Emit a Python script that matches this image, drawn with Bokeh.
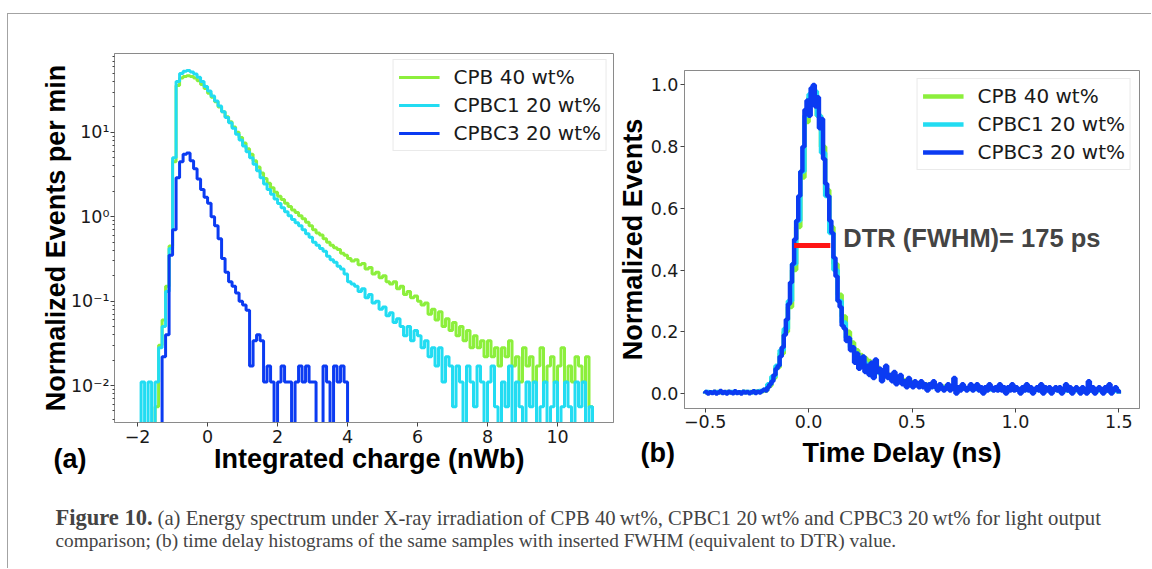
import numpy as np
from bokeh.plotting import figure
from bokeh.models import (Range1d, FixedTicker, Legend, LegendItem, Label, Title,
                          NumeralTickFormatter, Spacer)
from bokeh.layouts import row, column
from bokeh.embed import file_html
from bokeh.resources import INLINE

# ---------------- data ----------------
series_names = ["CPB 40 wt%", "CPBC1 20 wt%", "CPBC3 20 wt%"]
series_colors = ["#8CEF3C", "#22DCF2", "#0B3BF2"]

# (a) integrated charge histograms, bins of 0.1 nWb starting at -2.0
charge_start = -2.0
charge_bin = 0.1
cpb40_charge = [
    0, 0, 0, 0, 0, 0.0056, 0.03, 0.06, 0.15, 0.45,
    4.5, 36, 44, 46, 47, 46, 44, 41, 37, 33,
    29, 26, 23, 20, 17.5, 15.3, 13.4, 11.6, 10.0, 8.7,
    7.5, 6.4, 5.5, 4.6, 3.9, 3.3, 2.85, 2.5, 2.2, 1.95,
    1.75, 1.6, 1.45, 1.32, 1.2, 1.12, 1.03, 0.95, 0.86, 0.78,
    0.70, 0.64, 0.61, 0.55, 0.50, 0.46, 0.43, 0.41, 0.37, 0.35,
    0.32, 0.30, 0.31, 0.27, 0.28, 0.24, 0.25, 0.21, 0.22, 0.19,
    0.20, 0.17, 0.16, 0.17, 0.14, 0.15, 0.12, 0.13, 0.11, 0.115,
    0.10, 0.09, 0.095, 0.07, 0.08, 0.06, 0.075, 0.05, 0.062, 0.045,
    0.056, 0.039, 0.05, 0.034, 0.045, 0.028, 0.039, 0.028, 0.034, 0.022,
    0.034, 0.022, 0.028, 0.017, 0.028, 0.022, 0.034, 0.017, 0.022, 0.011,
    0.028, 0.017, 0.022, 0.011, 0.017, 0.028, 0.011, 0.017, 0.022, 0.011,
    0.017, 0.028, 0.011, 0.017, 0.011, 0.022, 0.017, 0.011, 0.022, 0.0056,
]
cpbc1_charge = [
    0, 0.011, 0, 0.011, 0, 0.011, 0.028, 0.05, 0.13, 0.42,
    5.0, 40, 50, 53, 54, 52, 49, 45, 40, 35,
    31, 27, 23.5, 20.5, 17.5, 15, 13, 11.2, 9.5, 8.1,
    6.9, 5.9, 5.0, 4.2, 3.5, 2.9, 2.45, 2.1, 1.85, 1.62,
    1.44, 1.28, 1.15, 1.03, 0.93, 0.85, 0.78, 0.70, 0.63, 0.57,
    0.50, 0.46, 0.42, 0.39, 0.34, 0.31, 0.29, 0.26, 0.24, 0.21,
    0.17, 0.16, 0.15, 0.13, 0.14, 0.11, 0.12, 0.095, 0.10, 0.08,
    0.085, 0.067, 0.073, 0.056, 0.062, 0.05, 0.039, 0.05, 0.034, 0.045,
    0.039, 0.028, 0.034, 0.022, 0.028, 0.017, 0.028, 0.011, 0.022, 0.017,
    0.0056, 0.017, 0.011, 0, 0.017, 0.011, 0.0056, 0.017, 0.011, 0,
    0.011, 0.017, 0.0056, 0, 0.011, 0.0056, 0.017, 0, 0.011, 0.0056,
    0, 0.011, 0.0056, 0.011, 0, 0.0056, 0.011, 0, 0.0056, 0.011,
    0, 0.0056, 0.011, 0.0056, 0, 0.011, 0.0056, 0.011, 0, 0.0056,
]
cpbc3_charge = [
    0, 0, 0, 0, 0, 0, 0, 0.022, 0.04, 0.35,
    0.7, 2.9, 4.5, 5.5, 5.7, 4.6, 3.7, 2.8, 2.1, 1.7,
    1.45, 1.0, 0.78, 0.55, 0.32, 0.22, 0.17, 0.15, 0.125, 0.10,
    0.09, 0.078, 0.017, 0.034, 0.04, 0.034, 0.011, 0.017, 0.011, 0,
    0.011, 0.017, 0.011, 0.011, 0, 0.011, 0.017, 0.011, 0.017, 0.011,
    0.011, 0, 0, 0.017, 0.011, 0, 0.017, 0.011, 0.017, 0.011,
]

# (b) time delay histograms (ns)
delay_start = -0.5
cpbc3_bin = 0.01
cpbc3_delay = [
    0.005, 0.0, 0.004, 0.002, 0.006, 0.0, 0.003, 0.008, 0.002, 0.005,
    0.0, 0.006, 0.003, 0.001, 0.007, 0.002, 0.004, 0.0, 0.006, 0.003,
    0.005, 0.001, 0.004, 0.007, 0.002, 0.006, 0.003, 0.008, 0.012, 0.01,
    0.02, 0.03, 0.04, 0.06, 0.08, 0.09, 0.12, 0.15, 0.19, 0.24,
    0.29, 0.36, 0.42, 0.50, 0.56, 0.64, 0.72, 0.80, 0.92, 0.95,
    0.90, 0.99, 1.00, 0.93, 0.96, 0.86, 0.89, 0.76, 0.68, 0.64,
    0.56, 0.52, 0.44, 0.38, 0.30, 0.28, 0.22, 0.21, 0.17, 0.18,
    0.14, 0.15, 0.10, 0.13, 0.08, 0.11, 0.12, 0.07, 0.09, 0.06,
    0.10, 0.05, 0.11, 0.07, 0.08, 0.04, 0.07, 0.09, 0.05, 0.06,
    0.04, 0.07, 0.03, 0.05, 0.06, 0.03, 0.04, 0.02, 0.05, 0.03,
    0.02, 0.04, 0.03, 0.02, 0.04, 0.02, 0.03, 0.01, 0.03, 0.02,
    0.04, 0.02, 0.01, 0.03, 0.02, 0.01, 0.02, 0.03, 0.01, 0.02,
    0.05, 0.00, 0.02, 0.01, 0.03, 0.02, 0.01, 0.02, 0.03, 0.01,
    0.02, 0.03, 0.01, 0.02, 0.00, 0.02, 0.01, 0.03, 0.02, 0.01,
    0.02, 0.01, 0.03, 0.01, 0.02, 0.00, 0.02, 0.01, 0.03, 0.01,
    0.02, 0.01, 0.00, 0.02, 0.01, 0.03, 0.01, 0.02, 0.00, 0.01,
    0.02, 0.01, 0.03, 0.00, 0.02, 0.01, 0.02, 0.00, 0.01, 0.02,
    0.01, 0.02, 0.00, 0.01, 0.03, 0.01, 0.02, 0.00, 0.01, 0.02,
    0.01, 0.00, 0.02, 0.01, 0.00, 0.04, 0.01, 0.02, 0.00, 0.01,
    0.02, 0.01, 0.00, 0.02, 0.01, 0.03, 0.00, 0.01, 0.02, 0.01,
]
wide_bin = 0.02
cpb40_delay = [
    0.004, 0.003, 0.005, 0.004, 0.003, 0.005, 0.004, 0.004, 0.003, 0.005,
    0.004, 0.005, 0.006, 0.007, 0.01,
    0.025, 0.05, 0.085, 0.13, 0.2, 0.28, 0.40, 0.54, 0.70, 0.88,
    0.96, 0.97, 0.90, 0.80, 0.66, 0.54, 0.42, 0.32, 0.25, 0.20,
    0.165, 0.14, 0.125, 0.115, 0.105, 0.095, 0.085, 0.075, 0.068, 0.06,
    0.055, 0.05, 0.045, 0.042, 0.038, 0.035, 0.032, 0.03, 0.028, 0.026,
    0.025, 0.024, 0.022, 0.021, 0.02,
    0.019, 0.018, 0.018, 0.017, 0.017, 0.016, 0.016, 0.016, 0.015, 0.015,
    0.015, 0.014, 0.015, 0.014, 0.014, 0.013, 0.014, 0.013, 0.013, 0.013,
    0.012, 0.013, 0.012, 0.012, 0.012, 0.011, 0.012, 0.011, 0.011, 0.012,
    0.011, 0.011, 0.010, 0.011, 0.010, 0.011, 0.010, 0.010, 0.011, 0.010,
]
cpbc1_delay = [
    0.005, 0.004, 0.004, 0.005, 0.003, 0.004, 0.005, 0.004, 0.004, 0.005,
    0.005, 0.004, 0.006, 0.008, 0.012,
    0.03, 0.055, 0.09, 0.14, 0.21, 0.30, 0.42, 0.56, 0.72, 0.90,
    0.97, 0.98, 0.90, 0.78, 0.64, 0.52, 0.40, 0.30, 0.23, 0.18,
    0.15, 0.13, 0.115, 0.10, 0.09, 0.08, 0.072, 0.065, 0.058, 0.052,
    0.047, 0.043, 0.039, 0.036, 0.033, 0.03, 0.028, 0.026, 0.024, 0.022,
    0.021, 0.02, 0.019, 0.018, 0.017,
    0.017, 0.016, 0.016, 0.015, 0.015, 0.015, 0.014, 0.014, 0.014, 0.013,
    0.013, 0.013, 0.012, 0.013, 0.012, 0.012, 0.012, 0.011, 0.012, 0.011,
    0.011, 0.011, 0.011, 0.010, 0.011, 0.010, 0.010, 0.010, 0.011, 0.010,
    0.010, 0.009, 0.010, 0.010, 0.009, 0.010, 0.009, 0.009, 0.010, 0.009,
]
fwhm_left = -0.07
fwhm_right = 0.105
fwhm_level = 0.48
dtr_text = "DTR (FWHM)= 175 ps"
dtr_x = 0.168
dtr_y = 0.503

panel_a = "(a)"
panel_b = "(b)"
xlabel_a = "Integrated charge (nWb)"
xlabel_b = "Time Delay (ns)"
ylabel_a = "Normalized Events per min"
ylabel_b = "Normalized Events"

caption_bold = "Figure 10."
caption_line1 = ("(a) Energy spectrum under X-ray irradiation of CPB 40\u2009wt%, "
                 "CPBC1 20\u2009wt% and CPBC3 20\u2009wt% for light output")
caption_line2 = ("comparison; (b) time delay histograms of the same samples with "
                 "inserted FWHM (equivalent to DTR) value.")

# ---------------- helpers ----------------
SPINE = "#8a8a8a"
TICK_FONT = "DejaVu Sans"
LABEL_FONT = "Liberation Sans"
NB = "\u00a0"


def step_xy(start, width, vals, floor):
    v = np.asarray(vals, dtype=float)
    v = np.where(v > 0, v, floor)
    edges = start + width * np.arange(len(v) + 1)
    xs = np.repeat(edges, 2)
    ys = np.concatenate([[floor], np.repeat(v, 2), [floor]])
    return xs, ys


def style_axis(ax):
    ax.axis_line_color = SPINE
    ax.axis_line_width = 1
    ax.major_tick_line_color = "#444444"
    ax.major_tick_out = 4
    ax.major_tick_in = 0
    ax.minor_tick_line_color = "#444444"
    ax.minor_tick_out = 2
    ax.minor_tick_in = 0
    ax.major_label_text_font = TICK_FONT
    ax.major_label_text_font_size = "17.5px"
    ax.major_label_text_color = "#1a1a1a"
    ax.major_label_standoff = 3
    ax.axis_label_text_font = LABEL_FONT
    ax.axis_label_text_font_style = "bold"
    ax.axis_label_text_font_size = "27px"
    ax.axis_label_text_color = "#000000"
    ax.axis_label_standoff = 0


def style_legend(lg, margin):
    lg.location = "top_right"
    lg.margin = margin
    lg.padding = 5
    lg.spacing = 4
    lg.glyph_width = 41
    lg.glyph_height = 20
    lg.label_standoff = 14
    lg.label_text_font = TICK_FONT
    lg.label_text_font_size = "20px"
    lg.label_text_color = "#1a1a1a"
    lg.border_line_color = "#d6d6d6"
    lg.border_line_width = 1
    lg.background_fill_color = "white"
    lg.background_fill_alpha = 0.85


def bottom_title(text, offset, standoff):
    return Title(text=text, align="left", offset=offset, standoff=standoff,
                 vertical_align="middle", text_font=LABEL_FONT, text_font_size="27px",
                 text_font_style="bold", text_color="#000000")


# ---------------- panel (a) ----------------
p1 = figure(title=None, frame_width=499, frame_height=369, y_axis_type="log",
            x_range=Range1d(-2.66, 11.6), y_range=Range1d(0.00365, 86),
            output_backend="svg", toolbar_location=None,
            min_border_left=106, min_border_right=1,
            min_border_top=39, min_border_bottom=78)
p1.grid.visible = False
p1.outline_line_color = SPINE
p1.background_fill_color = "white"
p1.border_fill_color = "white"

rends1 = []
for vals, col in zip([cpb40_charge, cpbc1_charge, cpbc3_charge], series_colors):
    xs, ys = step_xy(charge_start, charge_bin, vals, 1e-5)
    rends1.append(p1.line(xs, ys, line_color=col, line_width=3))

p1.xaxis.ticker = FixedTicker(ticks=[-2, 0, 2, 4, 6, 8, 10])
p1.xaxis.major_label_overrides = {-2: "\u22122"}
minor_log = [k * 10.0 ** e for e in range(-3, 2) for k in range(2, 10)]
p1.yaxis.ticker = FixedTicker(ticks=[0.01, 0.1, 1, 10], minor_ticks=minor_log)
p1.yaxis.major_label_overrides = {0.01: "10\u207b\u00b2", 0.1: "10\u207b\u00b9",
                                  1: "10\u2070", 10: "10\u00b9"}
p1.yaxis.axis_label = ylabel_a
for ax in (p1.xaxis[0], p1.yaxis[0]):
    style_axis(ax)
p1.xaxis.minor_tick_out = 0
p1.xaxis.major_label_standoff = 3
p1.yaxis.major_label_standoff = 1
p1.yaxis.axis_label_standoff = -3
# panel letter and x label share one line under the axis
p1.add_layout(bottom_title(panel_a + NB * 17 + xlabel_a, -61, -6), "below")

lg1 = Legend(items=[LegendItem(label=n, renderers=[r]) for n, r in zip(series_names, rends1)])
style_legend(lg1, 6)
p1.add_layout(lg1)

# ---------------- panel (b) ----------------
p2 = figure(title=None, frame_width=455, frame_height=338,
            x_range=Range1d(-0.6, 1.6), y_range=Range1d(-0.0486, 1.047),
            output_backend="svg", toolbar_location=None,
            min_border_left=65, min_border_right=6,
            min_border_top=39, min_border_bottom=92)
p2.grid.visible = False
p2.outline_line_color = SPINE
p2.background_fill_color = "white"
p2.border_fill_color = "white"

rends2 = []
for vals, width, col in zip([cpb40_delay, cpbc1_delay, cpbc3_delay],
                            [wide_bin, wide_bin, cpbc3_bin], series_colors):
    xs, ys = step_xy(delay_start, width, vals, 0.0)
    rends2.append(p2.line(xs, ys, line_color=col, line_width=4.5))

p2.line([fwhm_left, fwhm_right], [fwhm_level, fwhm_level], line_color="#FF1414", line_width=5)
p2.add_layout(Label(x=dtr_x, y=dtr_y, text=dtr_text, text_font=LABEL_FONT,
                    text_font_style="bold", text_font_size="25.5px",
                    text_baseline="middle", text_align="left"))

p2.xaxis.ticker = FixedTicker(ticks=[-0.5, 0, 0.5, 1, 1.5])
p2.xaxis.major_label_overrides = {-0.5: "\u22120.5", 0: "0.0", 0.5: "0.5", 1: "1.0", 1.5: "1.5"}
p2.yaxis.ticker = FixedTicker(ticks=[0, 0.2, 0.4, 0.6, 0.8, 1.0])
p2.yaxis.formatter = NumeralTickFormatter(format="0.0")
p2.yaxis.axis_label = ylabel_b
for ax in (p2.xaxis[0], p2.yaxis[0]):
    style_axis(ax)
    ax.minor_tick_out = 0
p2.yaxis.major_label_standoff = 2
p2.xaxis.major_label_standoff = 2
p2.add_layout(bottom_title(panel_b + NB * 17 + xlabel_b, -44, 12), "below")

lg2 = Legend(items=[LegendItem(label=n, renderers=[r]) for n, r in zip(series_names, rends2)])
style_legend(lg2, 8)
p2.add_layout(lg2)

# ---------------- caption ----------------
cap = figure(title=None, width=1143, height=68, x_range=Range1d(0, 1), y_range=Range1d(0, 1),
             output_backend="svg", toolbar_location=None,
             x_axis_location=None, y_axis_location=None, min_border=0)
cap.grid.visible = False
cap.outline_line_color = None
cap.background_fill_color = "white"
cap.border_fill_color = "white"
CAP_FONT = "Liberation Serif"
cap.add_layout(Label(x=47, y=51, x_units="screen", y_units="screen", text=caption_bold,
                     text_font=CAP_FONT, text_font_style="bold", text_font_size="22.5px",
                     text_baseline="middle"))
cap.add_layout(Label(x=149, y=51, x_units="screen", y_units="screen", text=caption_line1,
                     text_font=CAP_FONT, text_font_size="20.7px", text_baseline="middle"))
cap.add_layout(Label(x=47, y=28, x_units="screen", y_units="screen", text=caption_line2,
                     text_font=CAP_FONT, text_font_size="19.3px", text_baseline="middle"))

panels = row(p1, column(Spacer(height=17, width=10), p2))
inner = column(panels, cap,
               styles={"border-top": "1px solid #a3a3a3", "border-left": "1px solid #a3a3a3"})
layout = column(Spacer(height=13, width=10), row(Spacer(width=7, height=10), inner))

open("out.html", "w").write(file_html(layout, INLINE))
